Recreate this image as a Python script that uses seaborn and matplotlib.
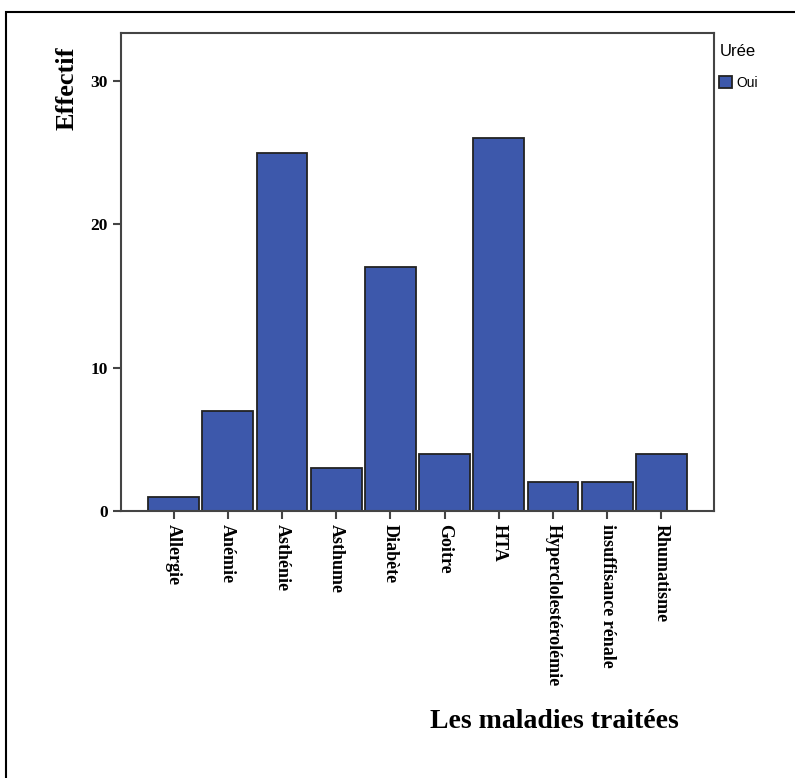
import seaborn as sns
import pandas as pd
from matplotlib import pyplot as plt
from matplotlib.patches import Rectangle

# data
maladies = ["Allergie", "Anémie", "Asthénie", "Asthume", "Diabète", "Goitre", "HTA",
            "Hyperclolestérolémie", "insuffisance rénale", "Rhumatisme"]
effectif = [1, 7, 25, 3, 17, 4, 26, 2, 2, 4]
uree = ["Oui"] * len(maladies)

df = pd.DataFrame({"maladie": maladies, "effectif": effectif, "Urée": uree})

sns.set_style("white")
serif = "Liberation Serif"
sans = "Liberation Sans"

fig = plt.figure(figsize=(7.95, 7.78), dpi=100)
ax = fig.add_axes([0.1522, 0.3432, 0.8981 - 0.1522, 0.9576 - 0.3432])

sns.barplot(data=df, x="maladie", y="effectif", hue="Urée", palette=["#3D58AB"],
            saturation=1, width=0.94, dodge=False, edgecolor="#222222", linewidth=1.3, ax=ax)

ax.set_xlim(-0.97, 9.97)
ax.set_ylim(0, 33.35)
ax.set_yticks([0, 10, 20, 30])
ax.set_xlabel("")
ax.set_ylabel("")

for s in ax.spines.values():
    s.set_color("#444444")
    s.set_linewidth(1.5)

ax.tick_params(axis="both", direction="out", length=6, width=1.5, color="#444444",
               labelcolor="black", bottom=True, left=True)
plt.setp(ax.get_yticklabels(), family=serif, fontweight="bold", fontsize=12.5)
plt.setp(ax.get_xticklabels(), family=serif, fontweight="bold", fontsize=13, rotation=-90,
         ha="center", va="top")

fig.text(0.084, 0.887, "Effectif", rotation=90, ha="center", va="center",
         family=serif, fontweight="bold", fontsize=19, color="black")
fig.text(0.697, 0.072, "Les maladies traitées", ha="center", va="center",
         family=serif, fontweight="bold", fontsize=20, color="black")

leg = ax.legend(title="Urée", loc="upper left", bbox_to_anchor=(0.905, 0.943),
                bbox_transform=fig.transFigure, frameon=False,
                prop={"family": sans, "size": 10}, handlelength=0.9, handleheight=0.9,
                handletextpad=0.3, borderpad=0, borderaxespad=0, labelspacing=0.5)
leg.get_title().set_family(sans)
leg.get_title().set_fontsize(12)
leg.get_title().set_color("black")
for t in leg.get_texts():
    t.set_color("black")
leg._legend_box.align = "left"
leg._legend_box.sep = 12

# outer frame around the chart
fig.patches.append(Rectangle((6 / 795, -0.1), 1.2, 1.1 - 12 / 778, transform=fig.transFigure,
                             fill=False, edgecolor="black", linewidth=1.5, figure=fig))

plt.savefig("out.png", dpi=100)
